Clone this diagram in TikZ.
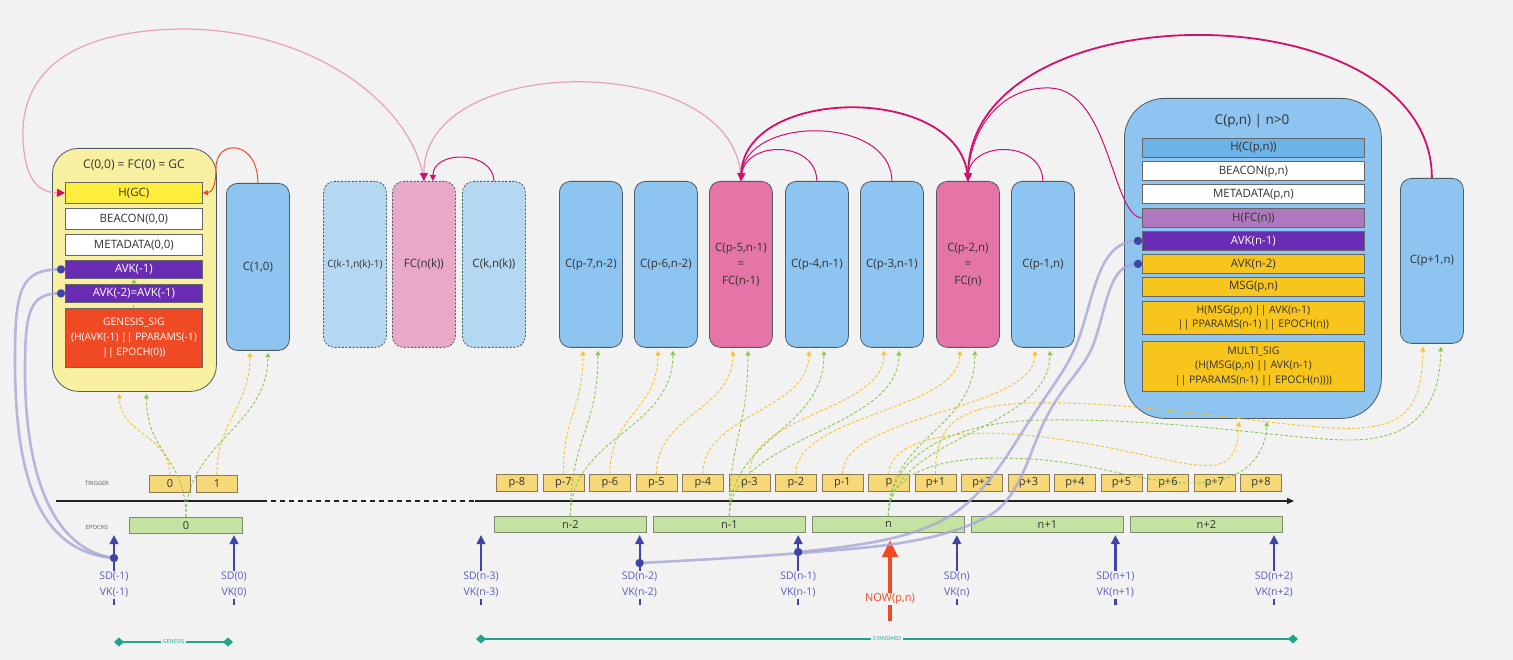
\documentclass[tikz,border=0pt]{standalone}
\usepackage{fontspec}
\setmainfont{Open Sans}
\usetikzlibrary{arrows.meta,calc}
\definecolor{bgc}{HTML}{F2F2F2}
\definecolor{txt}{HTML}{333333}
\definecolor{brd}{HTML}{4F5B66}
\definecolor{fbrd}{HTML}{666666}
\definecolor{genfill}{HTML}{F8F0A0}
\definecolor{hgcfill}{HTML}{FDEE3C}
\definecolor{purp}{HTML}{6A2CB4}
\definecolor{sigred}{HTML}{F04A25}
\definecolor{blu}{HTML}{8EC4F0}
\definecolor{lblu}{HTML}{B4D7F2}
\definecolor{lpnk}{HTML}{E9A8C8}
\definecolor{pnk}{HTML}{E675A7}
\definecolor{hblu}{HTML}{6DB2E6}
\definecolor{mauve}{HTML}{AF78BE}
\definecolor{gold}{HTML}{F8C51C}
\definecolor{trg}{HTML}{F7D878}
\definecolor{trgb}{HTML}{8A7B55}
\definecolor{epo}{HTML}{C4E2A1}
\definecolor{epob}{HTML}{7D8C6E}
\definecolor{ylw}{HTML}{F5C12E}
\definecolor{grn}{HTML}{8CC84F}
\definecolor{lav}{HTML}{A6A6DA}
\definecolor{dotc}{HTML}{3F44A8}
\definecolor{ind}{HTML}{3F45A8}
\definecolor{indt}{HTML}{5A5FBF}
\definecolor{tea}{HTML}{1FA68A}
\definecolor{mag}{HTML}{D2106C}
\definecolor{lmag}{HTML}{E89FC0}
\definecolor{org}{HTML}{F04A25}
\definecolor{axc}{HTML}{222222}
\definecolor{smallt}{HTML}{555555}
\begin{document}
\begin{tikzpicture}[x=1pt,y=-1pt,
  every node/.style={text=txt},
  blk/.style={rounded corners=11pt, draw=brd, line width=0.8pt, fill=blu, minimum width=63pt, minimum height=166pt, anchor=north west, inner sep=1pt, align=center, font=\fontsize{11.5}{16.5}\selectfont},
  dblk/.style={blk, dash pattern=on 2pt off 1.6pt},
  gen/.style={rounded corners=26pt, draw=brd, line width=0.8pt, fill=genfill, minimum width=164pt, minimum height=243pt, anchor=north west},
  bigbox/.style={rounded corners=40pt, draw=brd, line width=0.8pt, fill=blu, minimum width=257pt, minimum height=320pt, anchor=north west},
  fld/.style={draw=fbrd, line width=0.8pt, anchor=north west, inner sep=0pt, align=center, font=\fontsize{11.5}{14}\selectfont},
  gfld/.style={fld, minimum width=137pt},
  bfld/.style={fld, minimum width=222pt},
  trig/.style={draw=trgb, fill=trg, line width=0.8pt, minimum width=41pt, minimum height=17pt, anchor=north west, inner sep=0pt, font=\fontsize{11}{13}\selectfont},
  epoc/.style={draw=epob, fill=epo, line width=0.8pt, minimum width=152pt, minimum height=16pt, anchor=north west, inner sep=0pt, font=\fontsize{11}{13}\selectfont},
  ydash/.style={draw=ylw, line width=0.9pt, dash pattern=on 3pt off 2pt, -{Triangle[width=5pt,length=4.5pt]}},
  gdash/.style={draw=grn, line width=0.9pt, dash pattern=on 3pt off 2pt, -{Triangle[width=5pt,length=4.5pt]}},
  sdarr/.style={draw=ind, line width=2.2pt, -{Triangle[width=8.5pt,length=9pt]}},
  sdlab/.style={fill=bgc, text=indt, align=center, inner sep=1pt, font=\fontsize{10.5}{16}\selectfont},
  nowarr/.style={draw=org, line width=4.5pt, -{Triangle[width=15pt,length=17pt]}},
  nowlab/.style={fill=bgc, text=org, inner sep=1pt, font=\fontsize{11}{13}\selectfont},
  rng/.style={draw=tea, line width=2.4pt, {Diamond[width=9pt,length=10pt]}-{Diamond[width=9pt,length=10pt]}},
  rnglab/.style={fill=bgc, text=tea, inner sep=1.5pt, font=\fontsize{5.5}{6}\selectfont},
  tinylab/.style={text=smallt, font=\fontsize{5.8}{7}\selectfont},
  magthin/.style={draw=mag, line width=1pt, -{Triangle[width=6pt,length=6pt]}},
  magthick/.style={draw=mag, line width=1.8pt, -{Triangle[width=8pt,length=8pt]}},
  lpk/.style={draw=lmag, line width=1.2pt, -{Triangle[width=8pt,length=8pt,color=mag]}},
  orgarc/.style={draw=org, line width=1pt, -{Triangle[width=5pt,length=5pt]}},
  lavl/.style={draw=lav, line width=2.6pt, draw opacity=0.8},
  axis/.style={draw=axc, line width=1.3pt}
]
\useasboundingbox (0,0) rectangle (1513,660);
\fill[bgc] (0,0) rectangle (1513,660);

% ---------------- genesis certificate
\node[gen] (gen) at (52,148) {};
\node[font=\fontsize{12}{14}\selectfont] (gtitle) at (134,165) {C(0,0) = FC(0) = GC};
\node[gfld, fill=hgcfill, minimum height=21pt] (hgc) at (65,182) {H(GC)};
\node[gfld, fill=white, minimum height=21pt] (beacon0) at (65,208) {BEACON(0,0)};
\node[gfld, fill=white, minimum height=21pt] (meta0) at (65,234) {METADATA(0,0)};
\node[gfld, fill=purp, text=white, minimum height=18pt] (avkm1) at (65,260) {AVK(-1)};
\node[gfld, fill=sigred, text=white, minimum height=59pt, font=\fontsize{10.3}{15}\selectfont] (gsig) at (65,308) {GENESIS\_SIG\\(H(AVK(-1) || PPARAMS(-1)\\|| EPOCH(0))};
\draw[gdash] (gsig.north) -- (avkm1.south);
\node[gfld, fill=purp, text=white, minimum height=18pt] (avkm2) at (65,284) {AVK(-2)=AVK(-1)};

\node[blk, minimum height=167pt] (c10) at (226,183) {C(1,0)};

% ---------------- middle certificates
\node[dblk, fill=lblu, font=\fontsize{10}{13}\selectfont] (ckm1) at (323,181) {C(k-1,n(k)-1)};
\node[dblk, fill=lpnk] (fcnk) at (392,181) {FC(n(k))};
\node[dblk, fill=lblu] (ckn) at (462,181) {C(k,n(k))};
\node[blk] (cp7) at (559,181) {C(p-7,n-2)};
\node[blk] (cp6) at (634,181) {C(p-6,n-2)};
\node[blk, fill=pnk] (cp5) at (709,181) {C(p-5,n-1)\\=\\FC(n-1)};
\node[blk] (cp4) at (785,181) {C(p-4,n-1)};
\node[blk] (cp3) at (860,181) {C(p-3,n-1)};
\node[blk, fill=pnk] (cp2) at (936,181) {C(p-2,n)\\=\\FC(n)};
\node[blk] (cp1) at (1011,181) {C(p-1,n)};

% ---------------- current certificate
\node[bigbox] (cpn) at (1124,98) {};
\node[font=\fontsize{13.5}{16}\selectfont] (cptitle) at (1252,121) {C(p,n) | n>0};
\node[bfld, fill=hblu, minimum height=19pt] (hcpn) at (1142,138) {H(C(p,n))};
\node[bfld, fill=white, minimum height=19pt] (beaconpn) at (1142,161.5) {BEACON(p,n)};
\node[bfld, fill=white, minimum height=19pt] (metapn) at (1142,184.5) {METADATA(p,n)};
\node[bfld, fill=mauve, minimum height=19pt] (hfcn) at (1142,208) {H(FC(n))};
\node[bfld, fill=purp, text=white, minimum height=19pt] (avkn1) at (1142,231) {AVK(n-1)};
\node[bfld, fill=gold, minimum height=19pt] (avkn2) at (1142,254) {AVK(n-2)};
\node[bfld, fill=gold, minimum height=19pt] (msg) at (1142,277) {MSG(p,n)};
\node[bfld, fill=gold, minimum height=33pt, font=\fontsize{10.5}{14.5}\selectfont] (hmsg) at (1142,301) {H(MSG(p,n) || AVK(n-1)\\|| PPARAMS(n-1) || EPOCH(n))};
\node[bfld, fill=gold, minimum height=50pt, font=\fontsize{10.5}{14.5}\selectfont] (msig) at (1142,341) {MULTI\_SIG\\(H(MSG(p,n) || AVK(n-1)\\|| PPARAMS(n-1) || EPOCH(n))))};

\node[blk, minimum height=165pt] (cp1n) at (1400,178) {C(p+1,n)};

% ---------------- chain arcs
\draw[orgarc] (c10.north) .. controls (258,140) and (216,138) .. (216,168) .. controls (216,186) and (212,192.5) .. (hgc.east);
\draw[lpk] (fcnk.north) .. controls (415,110) and (320,30) .. (184,29) .. controls (60,30) and (20,80) .. (23,140) .. controls (25,175) and (35,192.5) .. (hgc.west);
\draw[lpk] (cp5.north) .. controls (741,50) and (423,50) .. (fcnk.north);
\draw[magthin] (ckn.north) .. controls (493,150) and (433,150) .. ($(fcnk.north)+(9,0)$);
\draw[magthin] (cp4.north) .. controls (816,140) and (745,140) .. (cp5.north);
\draw[magthin] (cp3.north) .. controls (891,115) and (745,115) .. (cp5.north);
\draw[magthick] (cp2.north) .. controls (967,84) and (745,84) .. (cp5.north);
\draw[magthin] (cp1.north) .. controls (1042,140) and (970,140) .. (cp2.north);
\draw[magthin] (hfcn.west) .. controls (1112,217) and (1110,90) .. (1050,88) .. controls (1000,86) and (970,130) .. (cp2.north);
\draw[magthick] (cp1n.north) .. controls (1431,-12) and (971,-12) .. (cp2.north);

% ---------------- timeline
\coordinate (ax0) at (56,501);
\coordinate (ax1) at (262,501);
\coordinate (ax2) at (475,501);
\coordinate (ax3) at (1294,501);
\draw[axis] (ax0) -- (ax1);
\draw[axis, dash pattern=on 5pt off 4pt] (ax1) -- (ax2);
\draw[axis, -{Triangle[width=6pt,length=7pt]}] (ax2) -- (ax3);
\node[tinylab] (trlab) at (97,483) {TRIGGER};
\node[tinylab] (eplab) at (97,527) {EPOCHS};

\node[trig] (tgz) at (149,475) {0};
\node[trig] (tgo) at (196,475) {1};
\node[epoc, minimum width=113pt] (eg0) at (129,517) {0};

\foreach \i in {-8,...,8}{
  \pgfmathtruncatemacro\k{\i+8}
  \pgfmathsetmacro\xx{496+\k*46.5}
  \ifnum\i<0 \def\lab{p\i}\else\ifnum\i=0 \def\lab{p}\else\def\lab{p+\i}\fi\fi
  \node[trig] (tg\k) at (\xx,474) {\lab};
}
\foreach \k/\lab in {0/n-2,1/n-1,2/n,3/n+1,4/n+2}{
  \node[epoc] (ep\k) at ({494+\k*159},516) {\lab};
}

% ---------------- trigger / epoch connectors
\draw[ydash] (tgz.north) .. controls +(0,-40) and +(0,40) .. ($(gen.south)+(-15,2)$);
\draw[gdash] (eg0.north) .. controls +(0,-60) and +(0,60) .. ($(gen.south)+(12,2)$);
\draw[ydash] (tgo.north) .. controls +(0,-55) and +(0,55) .. ($(c10.south)+(-8,2)$);
\draw[gdash] (eg0.north) .. controls +(0,-75) and +(0,75) .. ($(c10.south)+(10,2)$);

\draw[ydash] (tg1.north) .. controls +(0,-60) and +(0,60) .. ($(cp7.south)+(-8,3)$);
\draw[gdash] (ep0.north) .. controls +(0,-80) and +(0,80) .. ($(cp7.south)+(7,3)$);
\draw[ydash] (tg2.north) .. controls +(0,-60) and +(0,60) .. ($(cp6.south)+(-8,3)$);
\draw[gdash] (ep0.north) .. controls +(0,-80) and +(0,80) .. ($(cp6.south)+(7,3)$);
\draw[ydash] (tg3.north) .. controls +(0,-60) and +(0,60) .. ($(cp5.south)+(-8,3)$);
\draw[gdash] (ep1.north) .. controls +(0,-80) and +(0,80) .. ($(cp5.south)+(7,3)$);
\draw[ydash] (tg4.north) .. controls +(0,-60) and +(0,60) .. ($(cp4.south)+(-8,3)$);
\draw[gdash] (ep1.north) .. controls +(0,-80) and +(0,80) .. ($(cp4.south)+(7,3)$);
\draw[ydash] (tg5.north) .. controls +(0,-60) and +(0,60) .. ($(cp3.south)+(-8,3)$);
\draw[gdash] (ep1.north) .. controls +(0,-80) and +(0,80) .. ($(cp3.south)+(7,3)$);
\draw[ydash] (tg6.north) .. controls +(0,-60) and +(0,60) .. ($(cp2.south)+(-8,3)$);
\draw[gdash] (ep2.north) .. controls +(0,-80) and +(0,80) .. ($(cp2.south)+(7,3)$);
\draw[ydash] (tg7.north) .. controls +(0,-60) and +(0,60) .. ($(cp1.south)+(-8,3)$);
\draw[gdash] (ep2.north) .. controls +(0,-80) and +(0,80) .. ($(cp1.south)+(7,3)$);

\draw[ydash] (tg8.north) .. controls +(0,-35) and (960,425) .. (1050,438) .. controls (1150,452) and (1180,468) .. (1215,465) .. controls (1235,462) and (1238,445) .. ($(cpn.south)+(-14,3)$);
\draw[gdash] (ep2.north) .. controls +(0,-40) and (930,458) .. (1000,458) .. controls (1090,458) and (1130,482) .. (1190,483) .. controls (1250,484) and (1266,450) .. ($(cpn.south)+(14,3)$);
\draw[ydash] (tg9.north) .. controls +(0,-43) and (950,405) .. (1030,403) .. controls (1150,400) and (1300,432) .. (1360,428) .. controls (1410,425) and (1422,400) .. ($(cp1n.south)+(-9,3)$);
\draw[gdash] (ep2.north) .. controls +(0,-66) and (960,422) .. (1040,420) .. controls (1180,418) and (1290,440) .. (1350,440) .. controls (1420,440) and (1440,400) .. ($(cp1n.south)+(9,3)$);

% ---------------- stake distribution arrows
\coordinate (sdgb0) at (114,605); \coordinate (sdgt0) at (114,535);
\coordinate (sdgb1) at (234,605); \coordinate (sdgt1) at (234,535);
\draw[sdarr] (sdgb0) -- (sdgt0);
\draw[sdarr] (sdgb1) -- (sdgt1);
\node[sdlab] (sdgl0) at (114,585) {SD(-1)\\VK(-1)};
\node[sdlab] (sdgl1) at (234,585) {SD(0)\\VK(0)};
\foreach \k/\a in {0/n-3,1/n-2,2/n-1,3/n,4/n+1,5/n+2}{
  \pgfmathsetmacro\xx{481+\k*158.6}
  \coordinate (sdb\k) at (\xx,605);
  \coordinate (sdt\k) at (\xx,535);
  \draw[sdarr] (sdb\k) -- (sdt\k);
  \node[sdlab] (sdl\k) at (\xx,585) {SD(\a)\\VK(\a)};
}

% NOW
\coordinate (nowb) at (890,621);
\coordinate (nowt) at (890,540);
\draw[nowarr] (nowb) -- (nowt);
\node[nowlab] (nowl) at (890,599) {NOW(p,n)};

% ---------------- AVK links
\coordinate (dm1) at (114,558);
\coordinate (dn2) at (639.6,563);
\coordinate (dn1) at (798.2,552);
\coordinate (da1) at ($(avkm1.west)+(-4,0)$);
\coordinate (da2) at ($(avkm2.west)+(-4,0)$);
\coordinate (db1) at ($(avkn1.west)+(-4,0)$);
\coordinate (db2) at ($(avkn2.west)+(-4,0)$);
\draw[lavl] (da1) .. controls (20,269) and (15,290) .. (15,360) .. controls (15,480) and (40,552) .. (dm1);
\draw[lavl] (da2) .. controls (30,293) and (25,310) .. (25,370) .. controls (25,480) and (55,550) .. (dm1);
\draw[lavl] (dn1) .. controls (870,545) and (910,537) .. (943,520) .. controls (985,498) and (1010,450) .. (1030,420) .. controls (1055,382) and (1070,365) .. (1080,335) .. controls (1095,290) and (1100,240.5) .. (db1);
\draw[lavl] (dn2) .. controls (720,559) and (780,555) .. (850,549) .. controls (920,543) and (960,532) .. (990,515) .. controls (1020,498) and (1030,450) .. (1045,420) .. controls (1065,380) and (1085,370) .. (1095,340) .. controls (1108,300) and (1110,263.5) .. (db2);
\foreach \d in {dm1,dn2,dn1,da1,da2,db1,db2}{ \fill[dotc] (\d) circle (4.2pt); }

% ---------------- ranges
\coordinate (gsl) at (114,642); \coordinate (gsr) at (233,642);
\draw[rng] (gsl) -- (gsr);
\node[rnglab] (gsn) at ($(gsl)!0.5!(gsr)$) {GENESIS};
\coordinate (stl) at (476,639); \coordinate (str) at (1298,639);
\draw[rng] (stl) -- (str);
\node[rnglab] (stn) at ($(stl)!0.5!(str)$) {STANDARD};
\end{tikzpicture}
\end{document}
